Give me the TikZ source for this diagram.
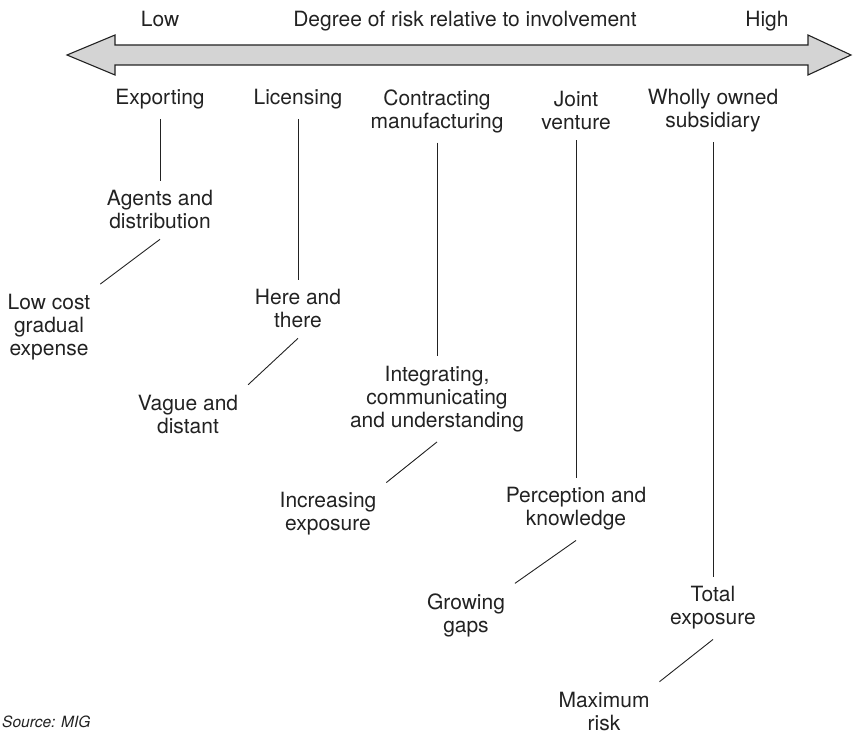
\documentclass[tikz,border=0pt]{standalone}
\usepackage{fontspec}
\setmainfont{TeX Gyre Heros}
\definecolor{ink}{HTML}{222222}
\definecolor{shaftgray}{HTML}{D4D4D4}

\begin{document}
\begin{tikzpicture}[
      x=1bp, y=-1bp,
      txt/.style={
        text=ink,
        align=center,
        inner sep=0pt,
        outer sep=10bp,
        font=\fontsize{21bp}{23bp}\selectfont
      },
      link/.style={
        draw=ink,
        line width=0.9bp
      },
    ]
    \useasboundingbox (0,0) rectangle (853,734);

    % scale arrow across the top
    \draw [fill=shaftgray, draw=ink, line width=1.1bp, line join=miter]
      (67,55) -- (115,35) -- (115,45) -- (808,45) -- (808,35) -- (851,55)
      -- (808,75) -- (808,65) -- (115,65) -- (115,75) -- cycle;
    \node [txt, anchor=base] (low) at (160,27) {Low};
    \node [txt, anchor=base] (degree) at (465,27) {Degree of risk relative to involvement};
    \node [txt, anchor=base] (high) at (767,27) {High};

    % modes of entry
    \node [txt] (exp) at (160,99) {Exporting};
    \node [txt] (lic) at (298,99) {Licensing};
    \node [txt] (con) at (437,111) {Contracting\\manufacturing};
    \node [txt] (jv) at (576,111) {Joint\\venture};
    \node [txt] (wos) at (713,111) {Wholly owned\\subsidiary};

    % second level
    \node [txt] (agents) at (160,210) {Agents and\\distribution};
    \node [txt] (here) at (298,309) {Here and\\there};
    \node [txt] (integ) at (437,399) {Integrating,\\communicating\\and understanding};
    \node [txt] (perc) at (576,509) {Perception and\\knowledge};
    \node [txt] (total) at (713,608) {Total\\exposure};

    % third level
    \node [txt] (lowcost) at (49,327) {Low cost\\gradual\\expense};
    \node [txt] (vague) at (188,414) {Vague and\\distant};
    \node [txt] (incr) at (328,514) {Increasing\\exposure};
    \node [txt] (grow) at (466,615) {Growing\\gaps};
    \node [txt] (maxr) at (604,711) {Maximum\\risk};

    \node [text=ink, inner sep=0pt, anchor=west,
      font=\fontsize{15.5bp}{18bp}\selectfont\itshape] (source) at (2,722) {Source: MIG};

    \draw [link] (exp.south) -- (agents.north);
    \draw [link] (lic.south) -- (here.north);
    \draw [link] (con.south) -- (integ.north);
    \draw [link] (jv.south) -- (perc.north);
    \draw [link] (wos.south) -- (total.north);

    \draw [link] (agents.south) -- (lowcost.north east);
    \draw [link] (here.south) -- (vague.north east);
    \draw [link] (integ.south) -- (incr.north east);
    \draw [link] (perc.south) -- (grow.north east);
    \draw [link] (total.south) -- (maxr.north east);
  \end{tikzpicture}
\end{document}
